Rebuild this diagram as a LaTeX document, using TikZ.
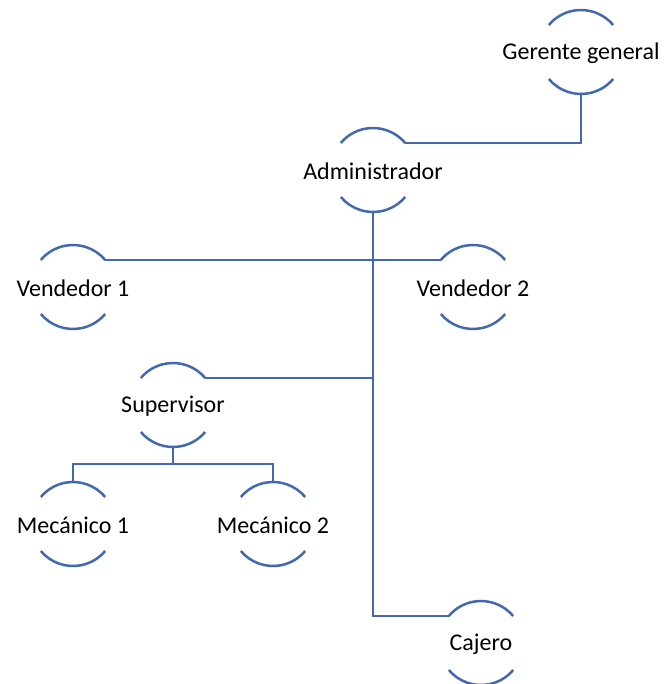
\documentclass[tikz,border=0pt]{standalone}
\usepackage{fontspec}
\setmainfont{Carlito}
\definecolor{orgline}{RGB}{66,104,176}
\begin{document}
\begin{tikzpicture}[x=1pt,y=1pt,
  person/.style={circle, minimum size=84pt, inner sep=0pt, outer sep=0pt,
    draw=none, label={[font=\fontsize{24}{28}\selectfont, text=black, yshift=-1pt]center:#1}},
  link/.style={draw=orgline, line width=2.5pt},
  ring/.style={draw=orgline, line width=2.5pt}]
\useasboundingbox (0,0) rectangle (664,684);
% positions (y measured upward)
\node[person={Gerente general}] (gg)  at (581,632) {};
\node[person={Administrador}]   (adm) at (373,514) {};
\node[person={Vendedor 1}]      (v1)  at (73,397) {};
\node[person={Vendedor 2}]      (v2)  at (473,397) {};
\node[person={Supervisor}]      (sup) at (173,279) {};
\node[person={Mecánico 1}]      (m1)  at (73,160) {};
\node[person={Mecánico 2}]      (m2)  at (273,160) {};
\node[person={Cajero}]          (caj) at (481,41) {};
% upper and lower arcs around each name
\foreach \n in {gg,adm,v1,v2,sup,m1,m2,caj}{
  \draw[ring] (\n.40) arc[start angle=40, end angle=140, radius=42pt];
  \draw[ring] (\n.220) arc[start angle=220, end angle=320, radius=42pt];
}
% connectors
\draw[link] (adm.40) -| (gg.south);
\draw[link] (v1.40) -- (v2.140);
\draw[link] (adm.south) |- (caj.140);
\draw[link] (sup.40) -- (sup.40 -| adm.south);
\coordinate (bus) at (173,220);
\draw[link] (sup.south) -- (bus);
\draw[link] (m1.north) |- (bus) -| (m2.north);
\end{tikzpicture}
\end{document}
